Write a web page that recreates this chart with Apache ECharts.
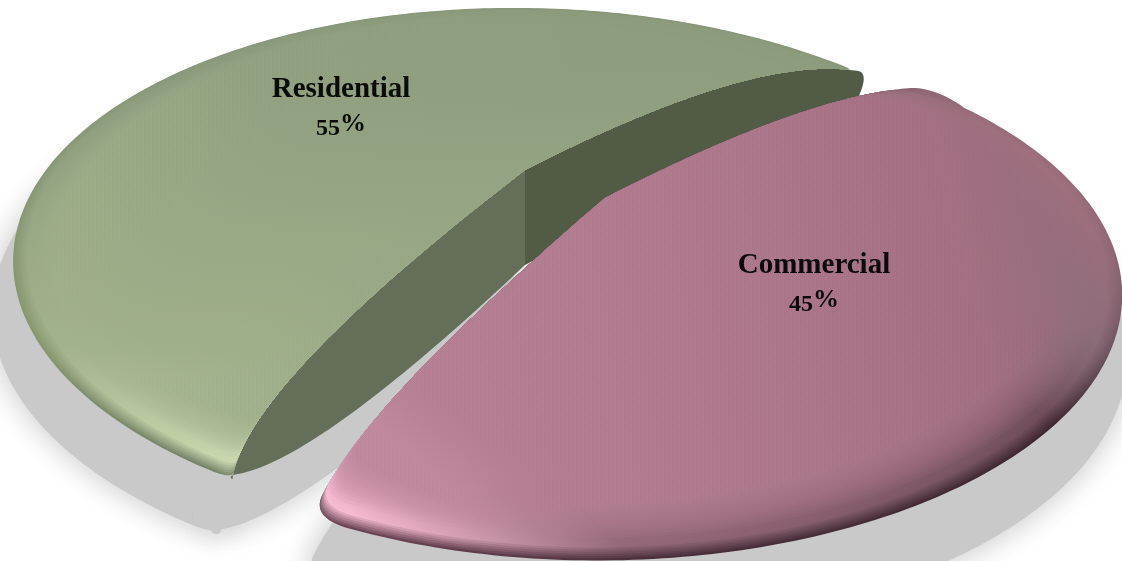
<!DOCTYPE html>
<html><head><meta charset="utf-8">
<style>html,body{margin:0;padding:0;background:#fff}#c{width:1122px;height:561px}</style>
<script src="https://cdn.jsdelivr.net/npm/echarts@6/dist/echarts.min.js"></script>
</head><body><div id="c"></div>
<script>
const categories = ['Residential', 'Commercial'];
const values = [55, 45];
const percentLabels = ['55%', '45%'];

const total = values.reduce((a, b) => a + b, 0);
const startAngle = 57.7;
const shareSkew = 0.12;
const angleAt = s => startAngle - 360 * (s - shareSkew * Math.sin(2 * Math.PI * s));

const look = [
  { apex: [525, 170], view: { A: 479, B: 224, k: 0.382, S: 15 }, shift: [0, -1], reachLo: 1,
    labelAt: [341, 90], pctAt: [341, 126],
    shadow: { dx: -16, dy: 50, blur: 30, grow: 10 },
    ctrlA: [225, -115], ctrlB: [-280, 215], tipA: [0.04, 12], tipB: [0.04, 12],
    rimAxis: [0, 470, 0, 70], rimStops: [0, 0.3, 1],
    edge: ['#76846a', '#87976f', '#88977a'],
    high: ['#CDDAB2', '#A3B38B', '#8C9B7C'],
    mid: ['#B4C39E', '#A0B08A', '#8E9D7E'],
    faceAxis: [50, 400, 800, 100], faceStops: [0, 0.4, 1],
    face: ['#A6B690', '#96A583', '#8C9B7C'],
    walls: { thick: 95,
      back: { color: '#525B46', end: [333, -72], ctrl: [195, -5], bulge: [346, -100] },
      front: { color: '#646E58', end: [-287, 304], ctrl: [-206, 289], bulge: [-298, 306] } } },
  { apex: [605, 198], view: { A: 480, B: 224, k: 0.382, S: -5 }, shift: [-3.8, -3.5], reachLo: 1.04,
    labelAt: [814, 266], pctAt: [814, 302],
    shadow: { dx: -2, dy: 62, blur: 30, grow: 14 },
    ctrlA: [-265, 227], ctrlB: [225, -115], tipA: [0.1, 30], tipB: [0.12, 40],
    rimAxis: [360, 520, 819, -47], rimStops: [0, 0.2, 0.7, 0.82, 1],
    edge: ['#6a4454', '#4a2f3b', '#3f2832', '#6d5560', '#a0707f'],
    high: ['#F6BAD3', '#93687a', '#6e4c5a', '#8a6c78', '#a4707f'],
    mid: ['#D89CB4', '#B27C90', '#9C6C7E', '#8F6E7C', '#A06C80'],
    faceAxis: [420, 430, 1120, 300], faceStops: [0, 0.5, 0.8, 1],
    face: ['#BC8499', '#B27C90', '#A87386', '#8F6E7C'] }
];

function hex(c) { return [1, 3, 5].map(i => parseInt(c.substr(i, 2), 16)); }
function toHex(arr) { return '#' + arr.map(v => v.toString(16).padStart(2, '0')).join(''); }
function hexMix(a, b, t) {
  const x = hex(a), y = hex(b);
  return toHex(x.map((v, i) => Math.round(v + (y[i] - v) * t)));
}
function rgba(a, al) { return 'rgba(' + hex(a).join(',') + ',' + al + ')'; }
function project(sl, deg, r) {
  const view = sl.view, t = deg * Math.PI / 180, u = Math.sin(t) * r, v = -Math.cos(t) * r;
  const w = 1 - view.k * v;
  return [sl.apex[0] + (view.A * u + view.S * v) / w, sl.apex[1] + view.B * v / w];
}
function unproject(sl, p) {
  const view = sl.view, m = (p[1] - sl.apex[1]) / view.B;
  const v = m / (1 + view.k * m), w = 1 - view.k * v;
  const u = ((p[0] - sl.apex[0]) * w - view.S * v) / view.A;
  return { r: Math.hypot(u, v), deg: Math.atan2(u, -v) * 180 / Math.PI };
}
function q(p0, c, p1, t) {
  const m = 1 - t;
  return [m * m * p0[0] + 2 * m * t * c[0] + t * t * p1[0], m * m * p0[1] + 2 * m * t * c[1] + t * t * p1[1]];
}
function walk(list, reach) {
  let d = 0, i = 1;
  for (; i < list.length - 1; i++) {
    d += Math.hypot(list[i][0] - list[i - 1][0], list[i][1] - list[i - 1][1]);
    if (d >= reach) break;
  }
  return i;
}
function nearAngle(deg, ref) { return deg + 360 * Math.round((ref - deg) / 360); }
function sliceOutline(i, b, r) {
  const sl = look[i], apex = sl.apex;
  const a0 = angleAt(b[0]), a1 = angleAt(b[1]);
  const hi = Math.max(a0, a1) + sl.shift[0], lo = Math.min(a0, a1) + sl.shift[1];
  const M = 80, N = 200;
  const CA = project(sl, hi, 1), CB = project(sl, lo, sl.reachLo);
  const ctA = [apex[0] + sl.ctrlA[0], apex[1] + sl.ctrlA[1]];
  const ctB = [apex[0] + sl.ctrlB[0], apex[1] + sl.ctrlB[1]];
  const edgeA = [], edgeB = [];
  for (let n = 0; n <= M; n++) { edgeA.push(q(apex, ctA, CA, n / M)); edgeB.push(q(apex, ctB, CB, n / M)); }
  // every ring, outer or inner, follows the same sides and rounds its two tips the same way
  const cut = (edge, ref) => {
    let n = 1;
    while (n < M && unproject(sl, edge[n]).r < r) n++;
    return { last: n, deg: r < 1 ? nearAngle(unproject(sl, edge[n]).deg, ref) : ref };
  };
  const A = cut(edgeA, hi), B = cut(edgeB, lo);
  if (r >= 1) { A.last = M; B.last = M; }
  const arc = [];
  for (let n = 0; n <= N; n++) arc.push(project(sl, A.deg + (B.deg - A.deg) * n / N, r));
  const tip = (edge, last, spec, arcEnd) => {
    const keep = Math.max(1, last - Math.floor(M * spec[0]));
    const start = edge[keep], corner = edge[last], pts = [];
    for (let n = 1; n < 12; n++) pts.push(q(start, corner, arcEnd, n / 12));
    return { kept: edge.slice(0, keep + 1), round: pts };
  };
  const iA = walk(arc, sl.tipA[1]), iB = N - walk(arc.slice().reverse(), sl.tipB[1]);
  const tA = tip(edgeA, A.last, sl.tipA, arc[iA]);
  const tB = tip(edgeB, B.last, sl.tipB, arc[iB]);
  return { pts: tA.kept.concat(tA.round, arc.slice(iA, iB + 1), tB.round.slice().reverse(), tB.kept.slice().reverse()),
           edgeA, edgeB };
}
function grad(axis, stops, colors, alpha) {
  const sets = stops.map((pos, i) => ({ offset: pos, color: alpha == null ? colors[i] : rgba(colors[i], alpha) }));
  return new echarts.graphic.LinearGradient(axis[0], axis[1], axis[2], axis[3], sets, true);
}
function rimColors(sl, p) {
  return sl.rimStops.map((_, i) => p < 0.15
    ? hexMix(sl.edge[i], sl.high[i], p / 0.15)
    : hexMix(sl.high[i], sl.mid[i], (p - 0.15) / 0.85));
}
function wallPoly(sl, edge, w, thick) {
  const apex = sl.apex, C = edge[edge.length - 1];
  const B0 = [apex[0], apex[1] + thick];
  const end = [apex[0] + w.end[0], apex[1] + w.end[1]];
  const ctrl = [apex[0] + w.ctrl[0], apex[1] + w.ctrl[1]];
  const bulge = [apex[0] + w.bulge[0], apex[1] + w.bulge[1]];
  const pts = edge.slice();
  for (let n = 1; n <= 12; n++) pts.push(q(C, bulge, end, n / 12));
  for (let n = 39; n >= 0; n--) pts.push(q(B0, ctrl, end, n / 40));
  return pts;
}
function bounds(i) {
  let s = 0;
  for (let j = 0; j < i; j++) s += values[j];
  return [s / total, (s + values[i]) / total];
}
function renderShadow(params, api) {
  const i = params.dataIndex, sl = look[i], base = sliceOutline(i, bounds(i), 1);
  const paint = { fill: '#c9c9c9', stroke: '#c9c9c9', lineWidth: sl.shadow.grow, lineJoin: 'round',
                  shadowBlur: sl.shadow.blur, shadowColor: '#c9c9c9' };
  const kids = [{ type: 'polygon', x: sl.shadow.dx, y: sl.shadow.dy, shape: { points: base.pts }, style: paint }];
  if (sl.walls) {
    kids.push({ type: 'polygon', x: sl.shadow.dx, y: sl.shadow.dy,
      shape: { points: wallPoly(sl, base.edgeB, sl.walls.front, sl.walls.thick) }, style: paint });
  }
  return { type: 'group', children: kids };
}
function renderSlice(params, api) {
  const i = params.dataIndex, sl = look[i], b = bounds(i), kids = [];
  const base = sliceOutline(i, b, 1);
  if (sl.walls) {
    const w = sl.walls;
    kids.push({ type: 'polygon', shape: { points: wallPoly(sl, base.edgeA, w.back, w.thick) },
      style: { fill: w.back.color } });
    kids.push({ type: 'polygon', shape: { points: wallPoly(sl, base.edgeB, w.front, w.thick) },
      style: { fill: w.front.color } });
  }
  kids.push({ type: 'polygon', shape: { points: base.pts },
    style: { fill: grad(sl.rimAxis, sl.rimStops, rimColors(sl, 0)) } });
  const L = 40;
  for (let n = 1; n <= L; n++) {
    const p = n / L, r = 1 - 0.15 * p;
    kids.push({ type: 'polygon', shape: { points: sliceOutline(i, b, r).pts },
      style: { fill: grad(sl.rimAxis, sl.rimStops, rimColors(sl, p)) } });
  }
  const K = 30;
  for (let n = 0; n <= K; n++) {
    const r = 0.96 - 0.18 * n / K;
    kids.push({ type: 'polygon', shape: { points: sliceOutline(i, b, r).pts },
      style: { fill: grad(sl.faceAxis, sl.faceStops, sl.face, 0.1) } });
  }
  const font = '"Liberation Serif", serif';
  kids.push({ type: 'text', x: sl.labelAt[0], y: sl.labelAt[1], style: {
    text: categories[i], fill: '#0b0b0b', font: 'bold 29px ' + font, align: 'center', verticalAlign: 'middle' } });
  const pct = percentLabels[i];
  kids.push({ type: 'text', x: sl.pctAt[0], y: sl.pctAt[1], style: {
    text: '{d|' + pct.slice(0, -1) + '}{p|%}', fill: '#0b0b0b', align: 'center', verticalAlign: 'middle',
    rich: { d: { font: 'bold 24px ' + font, fill: '#0b0b0b', padding: [6, 0, 0, 0] },
            p: { font: 'bold 26px ' + font, fill: '#0b0b0b', padding: [0, 0, 4, 0] } } } });
  return { type: 'group', children: kids };
}

const chart = echarts.init(document.getElementById('c'), null, { renderer: 'canvas' });
const seriesData = values.map(v => [v]);
chart.setOption({
  animation: false,
  backgroundColor: '#ffffff',
  series: [
    { type: 'custom', coordinateSystem: 'none', silent: true, z: 1, renderItem: renderShadow, data: seriesData },
    { type: 'custom', coordinateSystem: 'none', silent: true, z: 2, renderItem: renderSlice, data: seriesData }
  ]
});
</script></body></html>
